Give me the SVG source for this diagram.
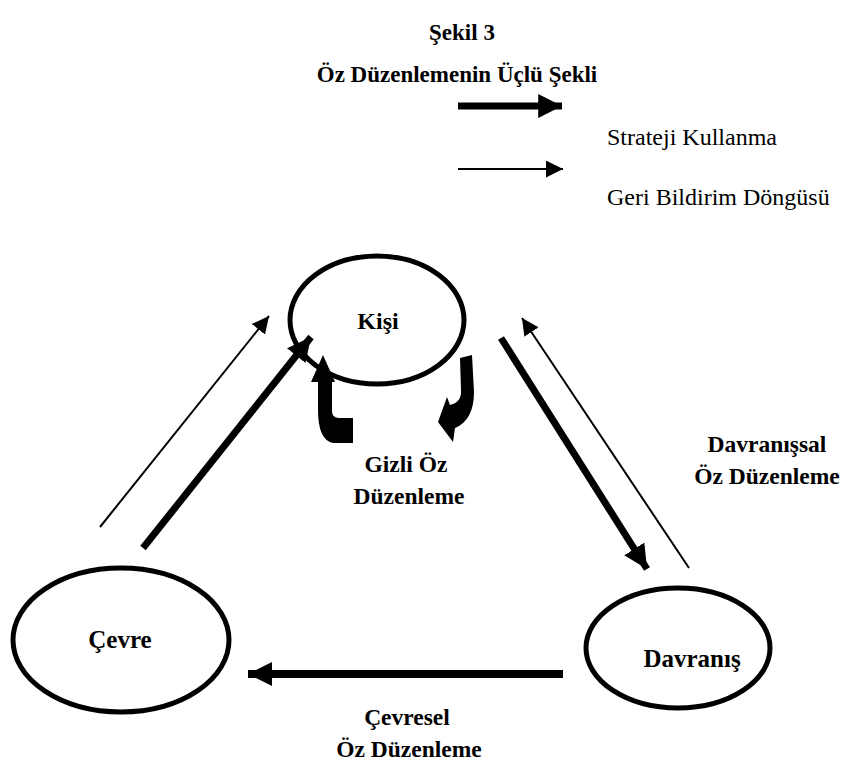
<svg xmlns="http://www.w3.org/2000/svg" width="868" height="774" viewBox="0 0 868 774">
<style>
  text { font-family: "Liberation Serif", "Times New Roman", serif; fill: #000; }
  .title { font-size: 23px; font-weight: bold; }
  .leg { font-size: 24px; }
  .node { font-size: 25px; font-weight: bold; }
  .lbl { font-size: 23.5px; font-weight: bold; }
  .ell { fill: #fff; stroke: #000; stroke-width: 5; }
  .thick { stroke: #000; stroke-width: 7; fill: none; }
  .thin { stroke: #000; stroke-width: 2; fill: none; }
</style>
<defs>
  <marker id="hThick" viewBox="0 0 10 10" refX="10" refY="5" markerWidth="3.4" markerHeight="3.4" markerUnits="strokeWidth" orient="auto">
    <path d="M0,0 L10,5 L0,10 Z" fill="#000"/>
  </marker>
  <marker id="hThin" viewBox="0 0 10 10" refX="10" refY="5" markerWidth="8.5" markerHeight="8.5" markerUnits="strokeWidth" orient="auto">
    <path d="M0,0 L10,5 L0,10 Z" fill="#000"/>
  </marker>
  <marker id="hBottom" viewBox="0 0 10 10" refX="10" refY="5" markerWidth="3" markerHeight="3" markerUnits="strokeWidth" orient="auto">
    <path d="M0,0 L10,5 L0,10 Z" fill="#000"/>
  </marker>
</defs>

<g id="title">
  <text class="title" x="462" y="40" text-anchor="middle">Şekil 3</text>
  <text class="title" x="457" y="82" text-anchor="middle">Öz Düzenlemenin Üçlü Şekli</text>
</g>

<g id="legend">
  <line class="thick" x1="458" y1="106" x2="562" y2="106" marker-end="url(#hThick)"/>
  <text class="leg" x="607" y="145">Strateji Kullanma</text>
  <line class="thin" x1="458" y1="169" x2="563" y2="169" marker-end="url(#hThin)"/>
  <text class="leg" x="607" y="205">Geri Bildirim Döngüsü</text>
</g>

<g id="node-kisi">
  <ellipse class="ell" cx="377" cy="320" rx="87" ry="64"/>
  <text class="node" x="378" y="329" text-anchor="middle" style="font-size:24px">Kişi</text>
</g>
<g id="node-cevre">
  <ellipse class="ell" cx="121" cy="640" rx="108" ry="72"/>
  <text class="node" x="120" y="648" text-anchor="middle">Çevre</text>
</g>
<g id="node-davranis">
  <ellipse class="ell" cx="678" cy="648" rx="92" ry="60"/>
  <text class="node" x="692" y="667" text-anchor="middle">Davranış</text>
</g>

<g id="connectors">
  <line class="thin" x1="100" y1="527" x2="269" y2="316" marker-end="url(#hThin)"/>
  <line class="thick" x1="143" y1="548" x2="311" y2="337" marker-end="url(#hThick)"/>
  <line class="thick" x1="501" y1="338" x2="647" y2="569" marker-end="url(#hThick)"/>
  <line class="thin" x1="689" y1="568" x2="522" y2="318" marker-end="url(#hThin)"/>
  <line class="thick" x1="563" y1="674" x2="248" y2="674" style="stroke-width:8" marker-end="url(#hBottom)"/>
  <path id="curve-up" d="M323 355 L335 382 L332 382 L332 411 Q332 418 339 418 L353 418 L353 443 L333 443 Q318 440 318 410 L318 382 L311 382 Z" fill="#000"/>
  <path id="curve-down" d="M460 358 L472 355 L474 392 Q474 420 455 428 L453 442 L438 422 L447 397 L450 405 Q462 402 461 390 Z" fill="#000"/>
</g>

<g id="labels">
  <text class="lbl" x="406" y="472" text-anchor="middle">Gizli Öz</text>
  <text class="lbl" x="409" y="504" text-anchor="middle">Düzenleme</text>
  <text class="lbl" x="767" y="452" text-anchor="middle">Davranışsal</text>
  <text class="lbl" x="767" y="484" text-anchor="middle">Öz Düzenleme</text>
  <text class="lbl" x="407" y="725" text-anchor="middle">Çevresel</text>
  <text class="lbl" x="409" y="757" text-anchor="middle">Öz Düzenleme</text>
</g>
</svg>
